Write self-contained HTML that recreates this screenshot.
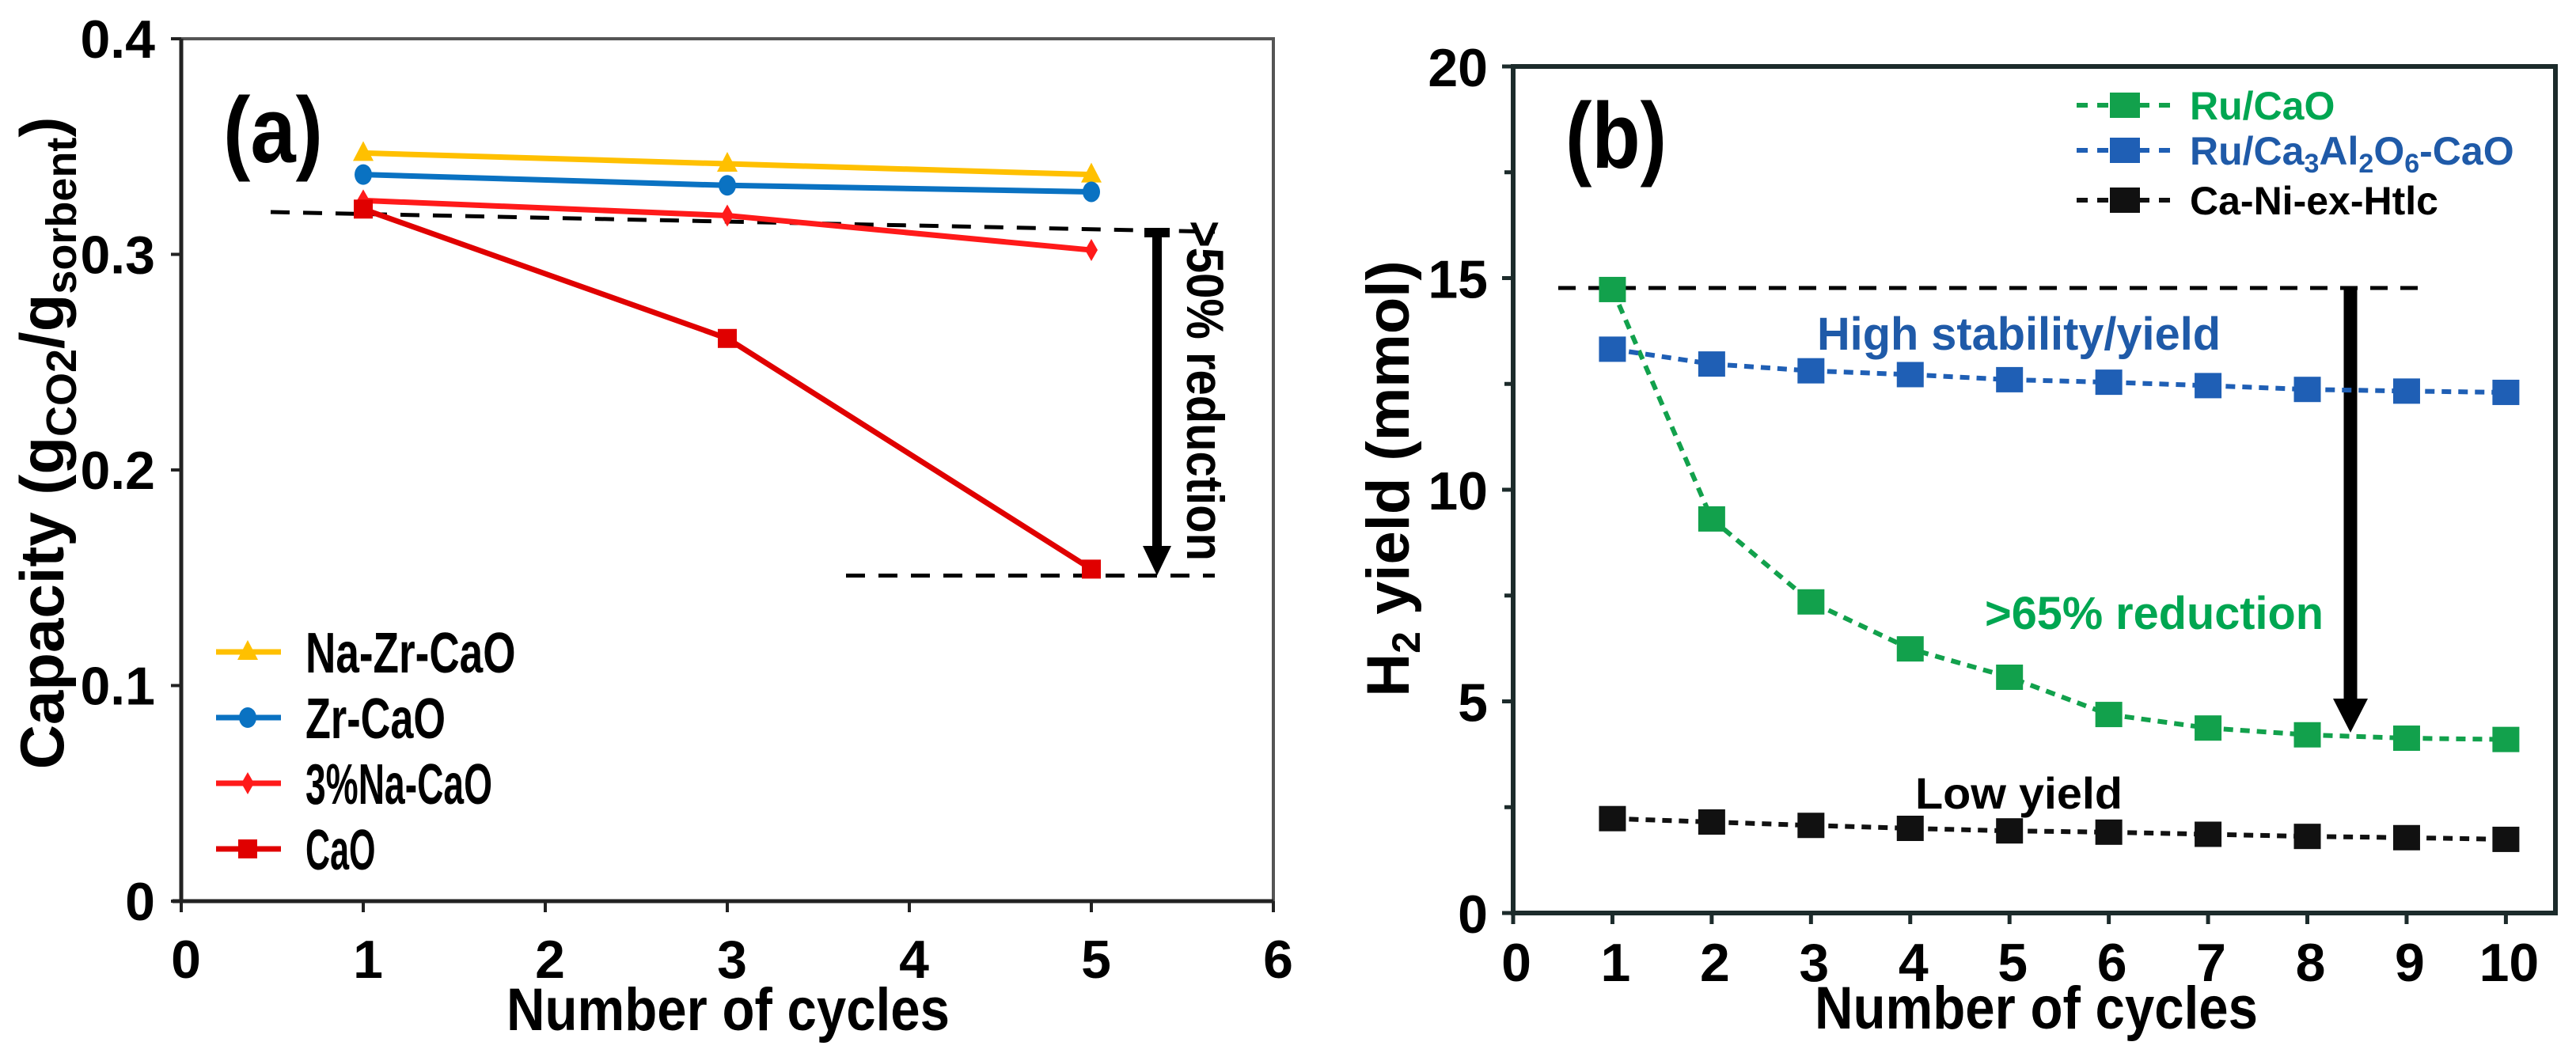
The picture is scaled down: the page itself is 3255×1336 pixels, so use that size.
<!DOCTYPE html>
<html><head><meta charset="utf-8"><style>
html,body{margin:0;padding:0;background:#fff;}
svg{display:block;font-family:"Liberation Sans",Arial,sans-serif;font-weight:bold;}
</style></head><body>
<svg id="chart" width="3255" height="1336" viewBox="0 0 3255 1336" xmlns="http://www.w3.org/2000/svg">
<g id="pa"></g>
<g id="pb"></g>
</svg>
<script>
// Panel (a) data
const aCycles = [1, 3, 5];
const aNaZr = [0.347, 0.342, 0.337];
const aZr = [0.337, 0.332, 0.329];
const aNa3 = [0.325, 0.318, 0.302];
const aCaO = [0.321, 0.261, 0.154];
const aXTicks = [0, 1, 2, 3, 4, 5, 6];
const aYTicks = [0, 0.1, 0.2, 0.3, 0.4];
const aYTickLabels = ["0", "0.1", "0.2", "0.3", "0.4"];
// Panel (b) data
const bCycles = [1, 2, 3, 4, 5, 6, 7, 8, 9, 10];
const bRuCaO = [14.73, 9.31, 7.35, 6.24, 5.57, 4.69, 4.37, 4.21, 4.13, 4.10];
const bRuAl = [13.32, 12.97, 12.81, 12.72, 12.6, 12.54, 12.46, 12.37, 12.33, 12.30];
const bNi = [2.23, 2.15, 2.07, 2.0, 1.94, 1.91, 1.86, 1.81, 1.78, 1.74];
const bXTicks = [0, 1, 2, 3, 4, 5, 6, 7, 8, 9, 10];
const bYTicks = [0, 5, 10, 15, 20];
const bYMinor = [2.5, 7.5, 12.5, 17.5];

const NS = "http://www.w3.org/2000/svg";
function mk(parent, tag, attrs, text) {
  const e = document.createElementNS(NS, tag);
  for (const k in attrs) e.setAttribute(k, attrs[k]);
  if (text !== undefined) e.textContent = text;
  parent.appendChild(e);
  return e;
}

// ---------- Panel a ----------
const pa = document.getElementById('pa');
const ax = v => 229 + v * 230;
const ay = v => 1139 - v * 2725;
let el;
el = mk(pa, 'rect', {x: 229, y: 49, width: 1380, height: 1090, fill: 'none', stroke: '#555', 'stroke-width': 4});


el = mk(pa, 'line', {x1: 229, y1: 49, x2: 229, y2: 1139, stroke: '#222', 'stroke-width': 5});


el = mk(pa, 'line', {x1: 218, y1: 1139, x2: 1609, y2: 1139, stroke: '#222', 'stroke-width': 5});


aXTicks.forEach(v => {
  el = mk(pa, 'line', {x1: ax(v), y1: 1139, x2: ax(v), y2: 1153, stroke: '#222', 'stroke-width': 4});
  
  
  el = mk(pa, 'text', {x: ax(v) + 6, y: 1236, 'font-size': 68, 'text-anchor': 'middle'}, String(v));
  
  
});
aYTicks.forEach((v, i) => {
  el = mk(pa, 'line', {x1: 216, y1: ay(v), x2: 229, y2: ay(v), stroke: '#222', 'stroke-width': 4});
  
  
  el = mk(pa, 'text', {x: 196, y: ay(v) + 24, 'font-size': 68, 'text-anchor': 'end'}, aYTickLabels[i]);
  
  
});
el = mk(pa, 'text', {x: 920, y: 1302, 'font-size': 76, 'text-anchor': 'middle', textLength: 560, lengthAdjust: 'spacingAndGlyphs'}, 'Number of cycles');


el = mk(pa, 'text', {x: 0, y: 0, 'font-size': 78, 'text-anchor': 'middle', transform: 'translate(80,560) rotate(-90)'});


el.innerHTML = 'Capacity (g<tspan font-size="54" dy="16">CO2</tspan><tspan dy="-16">/g</tspan><tspan font-size="54" dy="16">sorbent</tspan><tspan dy="-16">)</tspan>';
el = mk(pa, 'text', {x: 282, y: 205, 'font-size': 118, textLength: 126, lengthAdjust: 'spacingAndGlyphs'}, '(a)');


// dashed reference lines
el = mk(pa, 'line', {x1: 342, y1: 268, x2: 1535, y2: 293, stroke: '#000', 'stroke-width': 5, 'stroke-dasharray': '24 17'});


el = mk(pa, 'line', {x1: 1069, y1: ay(0.151), x2: 1535, y2: ay(0.151), stroke: '#000', 'stroke-width': 5, 'stroke-dasharray': '24 17'});


el = mk(pa, 'path', {d: 'M1446 294 H1478 M1462 294 V690', stroke: '#000', 'stroke-width': 12, fill: 'none'});


el = mk(pa, 'polygon', {points: '1444,690 1480,690 1462,' + ay(0.151)});


el = mk(pa, 'text', {x: 0, y: 0, 'font-size': 66, 'text-anchor': 'middle', transform: 'translate(1500,494) rotate(90)', textLength: 430, lengthAdjust: 'spacingAndGlyphs'}, '>50% reduction');



function markerA(g, type, x, y, color) {
  let m;
  if (type === 'tri') m = mk(g, 'polygon', {points: `${x},${y-15} ${x-13},${y+10} ${x+13},${y+10}`, fill: color});
  else if (type === 'circ') m = mk(g, 'ellipse', {cx: x, cy: y, rx: 11, ry: 13, fill: color});
  else if (type === 'dia') m = mk(g, 'polygon', {points: `${x},${y-14} ${x+8},${y} ${x},${y+14} ${x-8},${y}`, fill: color});
  else m = mk(g, 'rect', {x: x-12, y: y-12, width: 24, height: 24, fill: color});
  return m;
}
const aSeries = [
  {name: 'Na-Zr-CaO', vals: aNaZr, color: '#ffc000', m: 'tri'},
  {name: 'Zr-CaO', vals: aZr, color: '#0a72c2', m: 'circ'},
  {name: '3%Na-CaO', vals: aNa3, color: '#ff1a1a', m: 'dia'},
  {name: 'CaO', vals: aCaO, color: '#e00000', m: 'sq'}
];
aSeries.forEach((s, si) => {
  const g = mk(pa, 'g', {});
  
  
  const pts = s.vals.map((v, i) => ax(aCycles[i]) + ',' + ay(v)).join(' ');
  el = mk(g, 'polyline', {points: pts, fill: 'none', stroke: s.color, 'stroke-width': 7});
  
  
  s.vals.forEach((v, i) => {
    el = markerA(g, s.m, ax(aCycles[i]), ay(v), s.color);
    
    
  });
  // legend
  const ly = 824 + si * 83;
  const lg = mk(pa, 'g', {});
  
  
  mk(lg, 'line', {x1: 273, y1: ly, x2: 355, y2: ly, stroke: s.color, 'stroke-width': 7});
  markerA(lg, s.m, 313, ly, s.color);
  mk(lg, 'text', {x: 386, y: ly + 26, 'font-size': 72, textLength: s.name.length * 29.5, lengthAdjust: 'spacingAndGlyphs', 'font-weight': 'bold'}, s.name);
});

// ---------- Panel b ----------
const pb = document.getElementById('pb');
const bx = v => 1912 + v * 125.44;
const by = v => 1154 - v * 53.5;
el = mk(pb, 'rect', {x: 1912, y: 84, width: 1317, height: 1070, fill: 'none', stroke: '#1c2b2b', 'stroke-width': 6});


bXTicks.forEach(v => {
  el = mk(pb, 'line', {x1: bx(v), y1: 1154, x2: bx(v), y2: 1168, stroke: '#1c2b2b', 'stroke-width': 5});
  
  
  el = mk(pb, 'text', {x: bx(v) + 4, y: 1240, 'font-size': 68, 'text-anchor': 'middle'}, String(v));
  
  
});
bYTicks.forEach(v => {
  el = mk(pb, 'line', {x1: 1898, y1: by(v), x2: 1912, y2: by(v), stroke: '#1c2b2b', 'stroke-width': 5});
  
  
  el = mk(pb, 'text', {x: 1880, y: by(v) + 25, 'font-size': 68, 'text-anchor': 'end'}, String(v));
  
  
});
bYMinor.forEach(v => {
  el = mk(pb, 'line', {x1: 1901, y1: by(v), x2: 1912, y2: by(v), stroke: '#1c2b2b', 'stroke-width': 5});
  
  
});
el = mk(pb, 'text', {x: 2573, y: 1300, 'font-size': 76, 'text-anchor': 'middle', textLength: 560, lengthAdjust: 'spacingAndGlyphs'}, 'Number of cycles');


el = mk(pb, 'text', {x: 0, y: 0, 'font-size': 76, 'text-anchor': 'middle', transform: 'translate(1780,605) rotate(-90)'});


el.innerHTML = 'H<tspan font-size="50" dy="14">2</tspan><tspan dy="-14"> yield (mmol)</tspan>';
el = mk(pb, 'text', {x: 1978, y: 212, 'font-size': 118, textLength: 128, lengthAdjust: 'spacingAndGlyphs'}, '(b)');


el = mk(pb, 'line', {x1: 1969, y1: 364, x2: 3064, y2: 364, stroke: '#000', 'stroke-width': 5, 'stroke-dasharray': '22 16'});


el = mk(pb, 'path', {d: 'M2970 364 V885', stroke: '#000', 'stroke-width': 17, fill: 'none'});


el = mk(pb, 'polygon', {points: '2948,883 2992,883 2970,926'});


el = mk(pb, 'text', {x: 2296, y: 442, 'font-size': 58, fill: '#1f5aa8', textLength: 510, lengthAdjust: 'spacingAndGlyphs'}, 'High stability/yield');


el = mk(pb, 'text', {x: 2508, y: 795, 'font-size': 58, fill: '#00a651', textLength: 428, lengthAdjust: 'spacingAndGlyphs'}, '>65% reduction');


el = mk(pb, 'text', {x: 2420, y: 1022, 'font-size': 56, fill: '#000', textLength: 262, lengthAdjust: 'spacingAndGlyphs'}, 'Low yield');



const bSeries = [
  {key: 'ru-cao', vals: bRuCaO, color: '#12a14c', tc: '#00a651'},
  {key: 'ru-ca3al2o6-cao', vals: bRuAl, color: '#1f5fb5', tc: '#1f5aa8'},
  {key: 'ca-ni-ex-htlc', vals: bNi, color: '#111', tc: '#000'}
];
bSeries.forEach((s, si) => {
  const g = mk(pb, 'g', {});
  
  
  const pts = s.vals.map((v, i) => bx(bCycles[i]) + ',' + by(v)).join(' ');
  el = mk(g, 'polyline', {points: pts, fill: 'none', stroke: s.color, 'stroke-width': 6, 'stroke-dasharray': '12 9', 'stroke-linejoin': 'round'});
  
  
  s.vals.forEach((v, i) => {
    el = mk(g, 'rect', {x: bx(bCycles[i]) - 17, y: by(v) - 16, width: 34, height: 32, fill: s.color});
    
    
  });
  const ly = [133, 190, 253][si];
  const lg = mk(pb, 'g', {});
  
  
  mk(lg, 'line', {x1: 2624, y1: ly, x2: 2742, y2: ly, stroke: s.color, 'stroke-width': 6, 'stroke-dasharray': '14 12'});
  mk(lg, 'rect', {x: 2666, y: ly - 16, width: 38, height: 32, fill: s.color});
  const t = mk(lg, 'text', {x: 2767, y: ly + 18, 'font-size': 50, fill: s.tc});
  if (si === 0) t.textContent = 'Ru/CaO';
  else if (si === 1) t.innerHTML = 'Ru/Ca<tspan font-size="34" dy="10">3</tspan><tspan dy="-10">Al</tspan><tspan font-size="34" dy="10">2</tspan><tspan dy="-10">O</tspan><tspan font-size="34" dy="10">6</tspan><tspan dy="-10">-CaO</tspan>';
  else t.textContent = 'Ca-Ni-ex-Htlc';
});
</script>
</body></html>
